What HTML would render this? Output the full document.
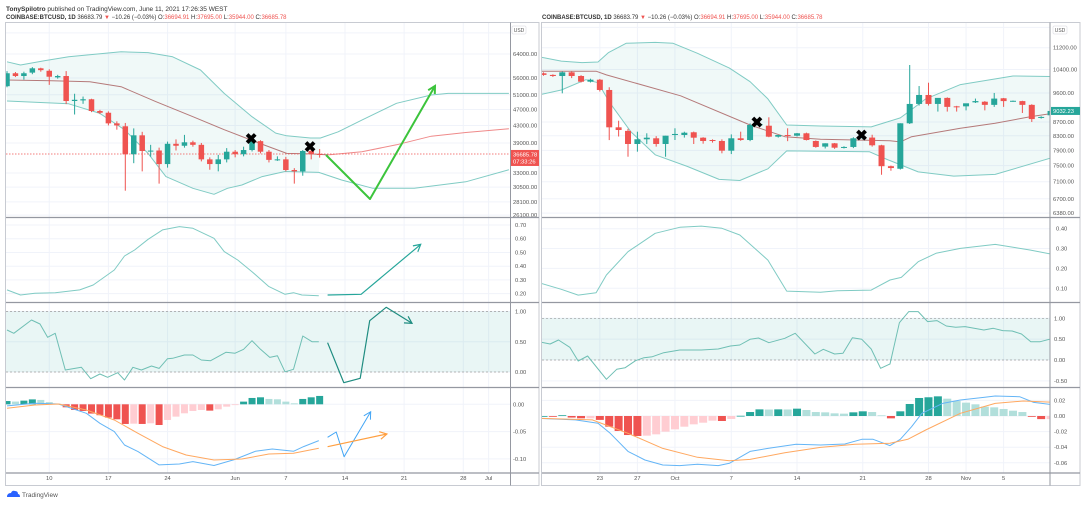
<!DOCTYPE html>
<html><head><meta charset="utf-8"><style>
html,body{margin:0;padding:0;background:#fff;}
svg{display:block;font-family:"Liberation Sans",sans-serif;}
</style></head><body>
<svg id="chart" width="1083" height="506" viewBox="0 0 1083 506" xmlns="http://www.w3.org/2000/svg">
<rect width="1083" height="506" fill="#fff"/>
<text x="6" y="11" font-size="6.5" fill="#333"><tspan font-weight="bold">TonySpilotro</tspan> published on TradingView.com, June 11, 2021 17:26:35 WEST</text>
<text x="6" y="19" font-size="6" fill="#333"><tspan font-weight="bold">COINBASE:BTCUSD, 1D</tspan> 36683.79 <tspan fill="#ef5350">▼</tspan> −10.26 (−0.03%) O:<tspan fill="#ef5350">36694.91</tspan> H:<tspan fill="#ef5350">37695.00</tspan> L:<tspan fill="#ef5350">35944.00</tspan> C:<tspan fill="#ef5350">36685.78</tspan></text>
<text x="542" y="19" font-size="6" fill="#333"><tspan font-weight="bold">COINBASE:BTCUSD, 1D</tspan> 36683.79 <tspan fill="#ef5350">▼</tspan> −10.26 (−0.03%) O:<tspan fill="#ef5350">36694.91</tspan> H:<tspan fill="#ef5350">37695.00</tspan> L:<tspan fill="#ef5350">35944.00</tspan> C:<tspan fill="#ef5350">36685.78</tspan></text>
<g>
<path d="M7 497 q0-4 4-4 q1-3 4-2 q3 0 3 3 q2 0 2 3 z" fill="#2962ff"/>
<text x="22" y="497" font-size="6.5" fill="#555">TradingView</text>
</g>
</svg>
<script>
// ---------- LEFT CHART DATA (May 5 – Jun 11 2021) ----------
const leftOpen  = [53500,57500,56620,57700,59100,58300,56200,56620,49270,49430,49750,46600,46150,43500,42800,36630,40700,37300,37400,34680,38820,38400,39150,38600,35600,34680,35600,37150,36630,37500,39400,37150,35500,35600,33550,33300,37300,36694];
const leftHigh  = [58200,57900,58000,59500,59300,58800,57000,58200,51300,50500,49900,46900,46500,44000,43600,42300,41500,38600,38000,39300,39800,40800,39500,39000,36000,36500,37900,37500,38200,39800,39600,37500,36200,36100,33900,37500,37700,37695];
const leftLow   = [53200,56300,55500,57200,58000,53900,55800,48430,45700,48500,46300,45800,43000,42000,29900,34850,33300,36150,31100,34000,37400,38000,38200,35200,33600,33300,35000,36000,36200,37200,36800,35000,35300,33300,31100,32500,35600,35944];
const leftClose = [57500,56620,57500,59100,58500,56400,56620,49270,49600,49750,46600,46150,43500,43000,36630,40700,37300,37380,34680,38820,38400,39150,38600,35600,34680,35600,37150,36630,37500,39400,37150,35500,35600,33550,33300,37300,36690,36685];
const leftUpperDays = [0,1.6,4.5,7.3,13.5,16.7,19.6,22.9,25.7,29,31.8,33.1,35.9,37.1,39.2,42,46.1,50.2,52.2,59.4];
const leftUpper     = [61300,60200,61700,63000,64800,64500,63000,58550,51400,45150,41200,40600,40100,40100,41500,44300,48650,50940,51400,51400];
const leftMidDays = [0,5.3,9.8,13.5,17.6,22,25.7,29.8,33.1,35.9,38,42,46.1,50.2,54.3,59.4];
const leftMid     = [55380,55170,54870,53350,49100,45150,42000,39000,36800,36700,36490,37150,38600,40490,41340,42200];
const leftLowerDays = [0,3.3,7.3,11,13.9,16.7,18.8,22,24.5,26.1,27.8,30.2,32.9,36.9,39.6,43.3,48.2,54.3,59.4];
const leftLower     = [49270,48900,48500,45980,42000,36800,32340,30300,29300,30300,30860,32340,33280,33100,31730,30300,30300,31420,33600];
const leftWidthDays = [0,1.6,3.3,5.7,8.6,10.2,12.7,13.9,15.1,16.7,18.4,20.4,22,24.5,25.7,27.3,29,31,32.9,33.9,34.9,36.9];
const leftWidth     = [0.227,0.19,0.203,0.207,0.227,0.263,0.372,0.474,0.518,0.596,0.664,0.688,0.676,0.603,0.506,0.445,0.36,0.251,0.195,0.207,0.19,0.185];
const leftPctBDays = [0,0.8,2.9,3.9,4.8,5.7,6.9,8.8,9.9,11,11.9,13.1,13.9,14.9,15.9,17.1,18,19,19.6,21,22,23,24.1,25.9,27,28,29,30,31.1,32,32.9,33.9,35,36.1,36.9];
const leftPctB     = [0.694,0.64,0.86,0.793,0.573,0.64,0.033,0.077,-0.11,-0.033,-0.088,-0.011,-0.132,0.077,0.033,0.099,0.06,0.22,0.226,0.281,0.281,0.198,0.187,0.325,0.31,0.375,0.518,0.375,0.242,0.27,0.004,0.044,0.595,0.501,0.501];
const leftHist = [0.006,0.005,0.0067,0.009,0.008,0.004,0.001,-0.0055,-0.0104,-0.0122,-0.017,-0.02,-0.0244,-0.0275,-0.036,-0.0355,-0.036,-0.0348,-0.0379,-0.0287,-0.0226,-0.0165,-0.0122,-0.0104,-0.0116,-0.0092,-0.0043,-0.0006,0.0049,0.0116,0.0128,0.0098,0.0092,0.0049,0.0018,0.0098,0.0128,0.0153];
const leftMacdDays = [0,3.3,6.1,9.4,11,12.7,13.9,15.5,18,20.4,22,24.5,26.9,29.4,31.4,33.9,35.1,36.9];
const leftMacd     = [-0.003,0.0018,0.0006,-0.0165,-0.0348,-0.05,-0.0745,-0.0867,-0.111,-0.1093,-0.105,-0.112,-0.1013,-0.086,-0.0818,-0.086,-0.0775,-0.0665];
const leftSigDays = [0,3.3,6.1,9.4,12.7,15.5,18.4,21.2,24.5,27.8,31,33.9,36.9];
const leftSig     = [-0.0073,-0.0012,0.0006,-0.0104,-0.0287,-0.0531,-0.0775,-0.0928,-0.102,-0.1002,-0.091,-0.0897,-0.0806];
const leftXLabels = ["10","17","24","Jun","7","14","21","28","Jul"];
const leftXLabelDays = [5,12,19,27,33,40,47,54,57];
const leftPriceTicks = [72000,64000,56000,51000,47000,43000,39000,33000,30500,28100,26100];
const leftWidthTicks = [0.7,0.6,0.5,0.4,0.3,0.2];
const leftPctBTicks = [1,0.5,0];
const leftMacdTicks = [0,-0.05,-0.1];
// drawings (day, value)
const drawPriceDays = [37.75,42.96,50.65], drawPrice = [36470,28550,53560];
const drawWidthDays = [37.94,41.9,48.96], drawWidth = [0.19,0.195,0.559];
const drawPctBDays = [37.94,39.86,41.8,42.92,44.88,47.93], drawPctB = [0.484,-0.177,-0.104,0.848,1.069,0.805];
const drawMacdDays = [37.94,38.96,39.89,43.04], drawMacd = [-0.0604,-0.0507,-0.096,-0.0136];
const drawSigDays = [37.94,44.96], drawSig = [-0.0777,-0.0544];
const leftMarkDays = [28.9,35.86], leftMarkPrices = [39870,38140];

// ---------- RIGHT CHART DATA (Sep 17 – Nov 10 2019) ----------
const rightOpen  = [10266,10210,10172,10300,10172,9977,10045,9700,8543,8440,8072,8202,8230,8072,8323,8323,8400,8247,8182,8155,7890,8230,8182,8600,8590,8275,8323,8303,8371,8155,8000,8091,7971,7991,8230,8250,8036,7485,7420,8661,9250,9537,9250,9442,9175,9175,9300,9320,9221,9430,9340,9340,9221,8830,8900];
const rightHigh  = [10300,10230,10330,10330,10200,10080,10070,9790,8737,8500,8417,8371,8290,8300,8515,8417,8420,8260,8200,8200,8340,8417,8660,8780,8839,8300,8515,8380,8390,8170,8091,8100,8010,8260,8330,8330,8050,7500,8661,10560,9831,9943,9260,9460,9190,9200,9420,9340,9602,9440,9360,9350,9240,8870,9100];
const rightLow   = [10180,10140,9590,10100,9950,9950,9650,8180,8280,7730,7864,8072,8000,7730,8182,8250,8072,8080,8110,7820,7800,8160,8150,8560,8260,8250,8150,8280,8170,7971,7950,7940,7950,7960,8200,8000,7270,7370,7400,8640,9200,9200,9013,9013,9013,9050,9280,9050,9158,9158,9320,8970,8700,8800,8880];
const rightClose = [10210,10172,10300,10172,9977,10045,9700,8543,8465,8072,8202,8247,8072,8303,8352,8388,8247,8155,8155,7890,8230,8182,8611,8640,8275,8323,8303,8371,8182,7991,8091,7971,7991,8230,8260,8036,7485,7438,8661,9250,9537,9250,9442,9158,9150,9270,9340,9221,9420,9340,9350,9221,8786,8850,9032];
const rightUpperIdx = [-0.5,1.9,4.1,5.8,6.9,8.8,11.9,13.8,16.4,19.8,22,23.9,25.9,29.5,34.9,38,38.9,40.7,44.4,50,54.5];
const rightUpper    = [10862,10700,10645,10670,11010,11370,11405,11370,10990,10450,9977,9410,8611,8580,8555,8820,9013,9410,9880,10172,10150];
const rightMidIdx = [-0.5,5.6,6.7,14.6,22,25.7,29.5,33.2,36.9,38,39.2,44.4,48.1,51.9,54.5];
const rightMid    = [10340,10340,10210,9510,8611,8275,8202,8182,8160,8130,8275,8515,8660,8860,8970];
const rightLowerIdx = [-0.5,1.9,4.5,5.8,7.1,9.3,11.9,15.3,18.7,20.9,23.9,25.9,34.7,36.6,39.9,43.7,48.1,54.5];
const rightLower    = [9537,9700,10045,9943,9270,8417,7780,7480,7156,7130,7420,7885,7864,7658,7340,7236,7280,7730];
const rightWidthIdx = [-0.5,1.9,3.7,5.6,6.7,9,11.9,14.5,16.8,19,20.9,23.9,25.9,29.5,31.3,34.9,36.9,38.1,39.9,41.8,44.4,48.1,51.8,54.5];
const rightWidth    = [0.128,0.095,0.066,0.078,0.167,0.284,0.377,0.407,0.413,0.402,0.368,0.242,0.086,0.08,0.088,0.091,0.142,0.155,0.234,0.276,0.301,0.321,0.293,0.268];
const rightPctBIdx = [-0.5,0.7,1.6,2.8,3.7,4.7,6.7,7.8,8.7,9.8,10.7,11.6,12.8,14.5,16.8,18.6,19.9,20.9,22,22.9,24,25.7,26.8,28.9,29.8,31,31.9,32.9,33.9,34.9,35.9,36.9,37.9,38.9,39.9,40.9,41.9,42.9,43.9,44.9,46.9,47.9,48.9,49.9,50.9,51.9,52.9,54.5];
const rightPctB    = [0.44,0.384,0.48,0.304,-0.024,0.096,-0.463,-0.223,-0.184,-0.016,0.056,0.08,0.176,0.24,0.24,0.264,0.336,0.36,0.496,0.528,0.415,0.52,0.64,0.144,0.256,0.144,0.16,0.535,0.496,0.264,-0.2,-0.096,0.894,1.16,1.16,0.92,0.945,0.815,0.784,0.8,0.72,0.76,0.704,0.696,0.624,0.44,0.44,0.535];
const rightHist = [0,-0.001,0.001,-0.002,-0.003,-0.003,-0.005,-0.0137,-0.0192,-0.0244,-0.0256,-0.0252,-0.0235,-0.0201,-0.0171,-0.0137,-0.0107,-0.0086,-0.006,-0.0064,-0.0038,0.0003,0.0051,0.0085,0.0083,0.0085,0.0084,0.0094,0.0077,0.0051,0.0047,0.0034,0.003,0.0047,0.006,0.0051,0.0009,-0.003,0.006,0.0154,0.0231,0.024,0.0252,0.0222,0.0192,0.0171,0.015,0.012,0.0111,0.009,0.0068,0.0051,-0.001,-0.004,-0.004];
const rightMacdIdx = [-0.5,3.4,5.8,7.1,9,10.8,12.7,14.5,16.4,18.6,19.8,22,23.9,26.9,29.5,32.1,33.9,35.1,36.9,38,39.2,40.3,42.5,44.4,47,48.1,50.7,52.2,54.5];
const rightMacd    = [-0.003,-0.005,-0.0093,-0.0222,-0.0454,-0.0564,-0.0628,-0.0636,-0.0619,-0.0636,-0.0607,-0.0454,-0.0415,-0.0363,-0.0372,-0.0359,-0.0299,-0.0299,-0.038,-0.0299,-0.0137,0.0034,0.0162,0.0205,0.024,0.0256,0.0248,0.0175,0.0141];
const rightSigIdx = [-0.5,5.2,9,12.7,16.4,19.8,22,25.7,29.5,33.2,36.9,38.8,40.7,44.4,48.1,51.1,54.5];
const rightSig    = [-0.003,-0.005,-0.0222,-0.0415,-0.053,-0.0573,-0.0556,-0.047,-0.0402,-0.0363,-0.035,-0.0299,-0.018,0.0034,0.0162,0.0192,0.0175];
const rightXLabels = ["23","27","Oct","7","14","21","28","Nov","5"];
const rightXLabelIdx = [6,10,14,20,27,34,41,45,49];
const rightPriceTicks = [12000,11200,10400,9600,8700,8300,7900,7500,7100,6700,6380];
const rightWidthTicks = [0.4,0.3,0.2,0.1];
const rightPctBTicks = [1,0.5,0,-0.5];
const rightMacdTicks = [0.02,0,-0.02,-0.04,-0.06];
const rightMarkIdx = [22.73,33.87], rightMarkPrices = [8678,8314];

// ---------- SCALES ----------
const lx = d => 7 + d*8.45;
const lyP = p => 78 - 179.6*Math.log(p/56000);
const lyW = v => 225 + (0.70 - v)*137.3;
const lyB = v => 372 - v*60.5;
const lyM = v => 404.3 - v*546;
const rx = i => 543.5 + i*9.39;
const ryP = p => 47.7 - 294*Math.log(p/11200);
const ryW = v => 288.3 - (v-0.1)*198.7;
const ryB = v => 360 - v*41.7;
const ryM = v => 416 - v*780;

const NS = 'http://www.w3.org/2000/svg';
const svg = document.getElementById('chart');
function mk(tag, attrs, parent){
  const e = document.createElementNS(NS, tag);
  for (const k in attrs) e.setAttribute(k, attrs[k]);
  (parent || svg).appendChild(e);
  return e;
}
const defs = mk('defs', {});
let clipN = 0;
function pane(x0, y0, x1, y1, name){
  const id = 'c' + (clipN++);
  const cp = mk('clipPath', {id: id}, defs);
  mk('rect', {x: x0, y: y0, width: x1-x0, height: y1-y0}, cp);
  const g = mk('g', {'clip-path': 'url(#' + id + ')'});
  
  
  return g;
}
function pts(xs, ys, fx, fy){ return xs.map((x,k)=>fx(x).toFixed(1)+','+fy(ys[k]).toFixed(1)).join(' '); }
function line(g, xs, ys, fx, fy, color, w, name){
  const p = mk('polyline', {points: pts(xs, ys, fx, fy), fill: 'none', stroke: color, 'stroke-width': w, 'stroke-linejoin': 'round'}, g);
  
  
  return p;
}
function arrow(g, xs, ys, fx, fy, color, w, name){
  const p = line(g, xs, ys, fx, fy, color, w, name);
  const n = xs.length;
  const x2 = fx(xs[n-1]), y2 = fy(ys[n-1]), x1 = fx(xs[n-2]), y1 = fy(ys[n-2]);
  const a = Math.atan2(y2-y1, x2-x1), L = 8;
  const h = mk('polyline', {points: (x2-L*Math.cos(a-0.5)).toFixed(1)+','+(y2-L*Math.sin(a-0.5)).toFixed(1)+' '+x2+','+y2+' '+(x2-L*Math.cos(a+0.5)).toFixed(1)+','+(y2-L*Math.sin(a+0.5)).toFixed(1), fill:'none', stroke: color, 'stroke-width': w}, g);
  
  
}
function hcol(v, prev){ if (v >= 0) return v >= prev ? '#26a69a' : '#b2dfdb'; return v < prev ? '#ef5350' : '#ffcdd2'; }

function gridH(g, ticks, fy, x0, x1){
  ticks.forEach(t => { const l = mk('line', {x1:x0, x2:x1, y1:fy(t), y2:fy(t), stroke:'#f0f3fa', 'stroke-width':1}, g);
      });
}
function gridV(g, pos, fx, y0, y1){
  pos.forEach(t => { const l = mk('line', {x1:fx(t), x2:fx(t), y1:y0, y2:y1, stroke:'#f0f3fa', 'stroke-width':1}, g);
      });
}
function yLabels(ticks, fy, x, fmt, name){
  ticks.forEach(t => { const tx = mk('text', {x:x, y:fy(t)+2, 'font-size':5.8, fill:'#555'});
    tx.textContent = fmt(t);
    
     });
}
function xLabels(labels, pos, fx, y){
  labels.forEach((s,k) => { const tx = mk('text', {x:fx(pos[k]), y:y, 'font-size':5.8, fill:'#555', 'text-anchor':'middle'});
    tx.textContent = s;
    
     });
}
function candles(g, O, H, L, C, fx, fy, w){
  O.forEach((o,k) => {
    const col = C[k] >= o ? '#26a69a' : '#ef5350';
    const x = fx(k);
    const wk = mk('line', {x1:x, x2:x, y1:fy(H[k]), y2:fy(L[k]), stroke:col, 'stroke-width':1}, g);
     
    const yt = fy(Math.max(o, C[k])), yb = fy(Math.min(o, C[k]));
    const b = mk('rect', {x:x-w/2, y:yt, width:w, height:Math.max(1, yb-yt), fill:col}, g);
     
  });
}
function hist(g, vals, fx, fy, w){
  vals.forEach((v,k) => {
    const prev = k ? vals[k-1] : 0;
    const y0 = fy(0), y1 = fy(v);
    const r = mk('rect', {x:fx(k)-w/2, y:Math.min(y0,y1), width:w, height:Math.max(0.8, Math.abs(y1-y0)), fill:hcol(v, prev)}, g);
     
  });
}
function bandFill(g, uX, uY, lX, lY, fx, fy, maxX, name){
  const up = []; uX.forEach((x,k)=>{ if (x <= maxX) up.push(fx(x).toFixed(1)+','+fy(uY[k]).toFixed(1)); });
  const lo = []; lX.forEach((x,k)=>{ if (x <= maxX) lo.push(fx(x).toFixed(1)+','+fy(lY[k]).toFixed(1)); });
  const p = mk('polygon', {points: up.concat(lo.reverse()).join(' '), fill:'rgba(38,166,154,0.07)'}, g);
   
}
function xMark(g, x, y){
  const t = mk('text', {x:x, y:y+5, 'font-size':15, 'font-weight':'bold', 'text-anchor':'middle', fill:'#000'}, g);
  t.textContent = '✖';
   
}
function sep(x0, x1, y){ const l = mk('line', {x1:x0, x2:x1, y1:y, y2:y, stroke:'#9598a1', 'stroke-width':1.2});
    }

// ================= LEFT PANEL =================
const LX0 = 6, LX1 = 510.5;
const PY = [23, 217.5, 302.5, 387.5, 473];
const lDays = [];
for (let d = -1; d <= 60; d++) lDays.push(d);
// main
let g = pane(LX0, PY[0], LX1, PY[1], 'left-price-pane');
gridH(g, leftPriceTicks, lyP, LX0, LX1); gridV(g, leftXLabelDays, lx, PY[0], PY[1]);
bandFill(g, leftUpperDays, leftUpper, leftLowerDays, leftLower, lx, lyP, 37.2, 'left-bollinger-fill');
line(g, leftUpperDays, leftUpper, lx, lyP, '#80cbc4', 1, 'left-bb-upper');
line(g, leftLowerDays, leftLower, lx, lyP, '#80cbc4', 1, 'left-bb-lower');
line(g, leftMidDays.filter(d=>d<=38), leftMid.filter((v,k)=>leftMidDays[k]<=38), lx, lyP, '#b57a7a', 1, 'left-bb-basis');
line(g, leftMidDays.filter(d=>d>=38), leftMid.filter((v,k)=>leftMidDays[k]>=38), lx, lyP, '#ef8a8a', 1, 'left-bb-basis-projected');
let dl = mk('line', {x1:LX0, x2:LX1, y1:lyP(36685.78), y2:lyP(36685.78), stroke:'#ef5350', 'stroke-width':0.7, 'stroke-dasharray':'1.5,1.5'}, g);
 
candles(g, leftOpen, leftHigh, leftLow, leftClose, lx, lyP, 5.5);
arrow(g, drawPriceDays, drawPrice, lx, lyP, '#3cc43c', 2, 'green-arrow-drawing');
leftMarkDays.forEach((d,k)=>xMark(g, lx(d), lyP(leftMarkPrices[k])));
// width pane
g = pane(LX0, PY[1], LX1, PY[2], 'left-bb-width-pane');
gridH(g, leftWidthTicks, lyW, LX0, LX1); gridV(g, leftXLabelDays, lx, PY[1], PY[2]);
line(g, leftWidthDays, leftWidth, lx, lyW, '#80cbc4', 1, 'left-bb-width-line');
arrow(g, drawWidthDays, drawWidth, lx, lyW, '#26a69a', 1.2, 'width-arrow-drawing');
// %B pane
g = pane(LX0, PY[2], LX1, PY[3], 'left-percent-b-pane');
gridH(g, leftPctBTicks, lyB, LX0, LX1); gridV(g, leftXLabelDays, lx, PY[2], PY[3]);
let fr = mk('rect', {x:LX0, y:lyB(1), width:LX1-LX0, height:lyB(0)-lyB(1), fill:'rgba(38,166,154,0.1)'}, g);
 
[1,0].forEach(v=>{ const l = mk('line',{x1:LX0,x2:LX1,y1:lyB(v),y2:lyB(v),stroke:'#9e9e9e','stroke-width':0.7,'stroke-dasharray':'2,2'}, g);
    });
line(g, leftPctBDays, leftPctB, lx, lyB, '#6fbfb4', 1, 'left-percent-b-line');
arrow(g, drawPctBDays, drawPctB, lx, lyB, '#1e8c80', 1.2, 'percent-b-arrow-drawing');
// MACD pane
g = pane(LX0, PY[3], LX1, PY[4], 'left-macd-pane');
gridH(g, leftMacdTicks, lyM, LX0, LX1); gridV(g, leftXLabelDays, lx, PY[3], PY[4]);
hist(g, leftHist, lx, lyM, 7);
line(g, leftMacdDays, leftMacd, lx, lyM, '#64b5f6', 1, 'left-macd-line');
line(g, leftSigDays, leftSig, lx, lyM, '#ffa860', 1, 'left-signal-line');
arrow(g, drawMacdDays, drawMacd, lx, lyM, '#42a5f5', 1, 'macd-arrow-drawing');
arrow(g, drawSigDays, drawSig, lx, lyM, '#ff9f40', 1.2, 'signal-arrow-drawing');
// left axes
yLabels(leftPriceTicks.slice(1), lyP, 513, t=>t.toFixed(2), 'price-axis-label');
yLabels(leftWidthTicks, lyW, 515, t=>t.toFixed(2), 'width-axis-label');
yLabels(leftPctBTicks, lyB, 515, t=>t.toFixed(2), 'percent-b-axis-label');
yLabels(leftMacdTicks, lyM, 513, t=>t.toFixed(2), 'macd-axis-label');
xLabels(leftXLabels, leftXLabelDays, lx, 480);

// ================= RIGHT PANEL =================
const RX0 = 542, RX1 = 1050;
g = pane(RX0, PY[0], RX1, PY[1], 'right-price-pane');
gridH(g, rightPriceTicks, ryP, RX0, RX1); gridV(g, rightXLabelIdx, rx, PY[0], PY[1]);
bandFill(g, rightUpperIdx, rightUpper, rightLowerIdx, rightLower, rx, ryP, 60, 'right-bollinger-fill');
line(g, rightUpperIdx, rightUpper, rx, ryP, '#80cbc4', 1, 'right-bb-upper');
line(g, rightLowerIdx, rightLower, rx, ryP, '#80cbc4', 1, 'right-bb-lower');
line(g, rightMidIdx, rightMid, rx, ryP, '#b57a7a', 1, 'right-bb-basis');
candles(g, rightOpen, rightHigh, rightLow, rightClose, rx, ryP, 6);
rightMarkIdx.forEach((d,k)=>xMark(g, rx(d), ryP(rightMarkPrices[k])));
g = pane(RX0, PY[1], RX1, PY[2], 'right-bb-width-pane');
gridH(g, rightWidthTicks, ryW, RX0, RX1); gridV(g, rightXLabelIdx, rx, PY[1], PY[2]);
line(g, rightWidthIdx, rightWidth, rx, ryW, '#80cbc4', 1, 'right-bb-width-line');
g = pane(RX0, PY[2], RX1, PY[3], 'right-percent-b-pane');
gridH(g, rightPctBTicks, ryB, RX0, RX1); gridV(g, rightXLabelIdx, rx, PY[2], PY[3]);
fr = mk('rect', {x:RX0, y:ryB(1), width:RX1-RX0, height:ryB(0)-ryB(1), fill:'rgba(38,166,154,0.1)'}, g);
 
[1,0].forEach(v=>{ const l = mk('line',{x1:RX0,x2:RX1,y1:ryB(v),y2:ryB(v),stroke:'#9e9e9e','stroke-width':0.7,'stroke-dasharray':'2,2'}, g);
    });
line(g, rightPctBIdx, rightPctB, rx, ryB, '#6fbfb4', 1, 'right-percent-b-line');
g = pane(RX0, PY[3], RX1, PY[4], 'right-macd-pane');
gridH(g, rightMacdTicks, ryM, RX0, RX1); gridV(g, rightXLabelIdx, rx, PY[3], PY[4]);
hist(g, rightHist, rx, ryM, 8);
line(g, rightMacdIdx, rightMacd, rx, ryM, '#64b5f6', 1, 'right-macd-line');
line(g, rightSigIdx, rightSig, rx, ryM, '#ffa860', 1, 'right-signal-line');
yLabels(rightPriceTicks.slice(1), ryP, 1053, t=>t.toFixed(2), 'price-axis-label');
yLabels(rightWidthTicks, ryW, 1056, t=>t.toFixed(2), 'width-axis-label');
yLabels(rightPctBTicks, ryB, 1054, t=>t.toFixed(2), 'percent-b-axis-label');
yLabels(rightMacdTicks, ryM, 1054, t=>t.toFixed(2), 'macd-axis-label');
xLabels(rightXLabels, rightXLabelIdx, rx, 480);

// ---------- frames, separators, tags ----------
[[5.5,539],[541.5,1080]].forEach(([a,b],k)=>{
  const f = mk('rect', {x:a, y:22.5, width:b-a, height:463, fill:'none', stroke:'#c8cbd2', 'stroke-width':1});
   
});
[[LX0,539,LX1],[RX0,1080,RX1]].forEach(([a,b,p])=>{
  [PY[1],PY[2],PY[3],PY[4]].forEach(y=>sep(a,b,y));
  const v = mk('line', {x1:p, x2:p, y1:22.5, y2:485.5, stroke:'#9598a1', 'stroke-width':1});
   
});
function tag(x, y, w, h, col, lines, name){
  const r = mk('rect', {x:x, y:y, width:w, height:h, fill:col});
   
  lines.forEach((s,k)=>{ const t = mk('text', {x:x+2, y:y+6.3+k*7, 'font-size':5.8, fill:'#fff'});
    t.textContent = s;
      });
}
tag(511, lyP(36685.78)-4, 28, 16, '#ef5350', ['36685.78','07:33:26'], 'last-price-tag');
tag(1051, ryP(9032.23)-4, 29, 8, '#26a69a', ['9032.23'], 'right-last-price-tag');
[[512,26],[1053,26]].forEach(([x,y])=>{
  const r = mk('rect', {x:x, y:y, width:14, height:8, fill:'#fff', stroke:'#d1d4dc', 'stroke-width':0.5, rx:1});
   
  const t = mk('text', {x:x+7, y:y+6, 'font-size':5, fill:'#555', 'text-anchor':'middle'});
  t.textContent = 'USD';
   
});
</script>
</body></html>
